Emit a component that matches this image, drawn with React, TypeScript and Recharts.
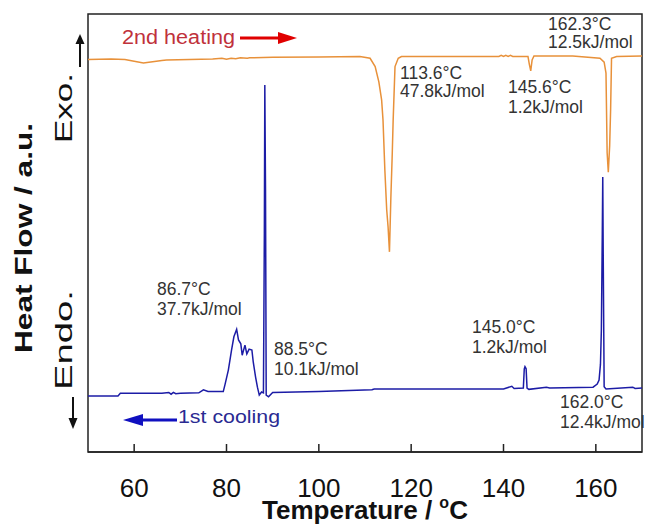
import { LineChart, Line, XAxis, YAxis, ReferenceArea } from 'recharts';

// 2nd heating trace (orange), temperature in °C and heat flow in a.u.
const heatingT = [
  50, 55, 58, 60, 62, 64, 66, 67, 72, 77, 79, 80, 81, 82, 83, 84.5, 85, 90, 100, 108.9, 111.1, 112.2,
  113.0, 113.6, 113.9, 114.3, 114.7, 115.0, 115.3, 115.6, 115.9, 116.1, 116.5, 117.2, 117.9, 125,
  139, 139.5, 140, 140.5, 141, 141.5, 142, 145.3, 145.6, 145.9, 146.2, 146.6, 155, 160.9, 161.8,
  162.2, 162.45, 162.7, 163.0, 163.2, 163.4, 164.5, 170,
];
const heatingV = [
  89.6, 89.7, 89.6, 89.2, 88.8, 89.1, 89.4, 89.5, 89.6, 89.7, 89.9, 89.7, 89.9, 89.8, 90.0, 89.9,
  90.0, 90.1, 90.2, 90.3, 89.9, 88.0, 84.5, 80.4, 75.8, 64.4, 55.3, 51.4, 45.7, 58, 68, 75.8, 88.0,
  89.9, 90.3, 90.3, 90.3, 90.55, 90.3, 90.55, 90.3, 90.55, 90.3, 90.3, 88.5, 87.0, 89.5, 90.4, 90.4,
  89.9, 89.0, 86.5, 68.3, 63.9, 70, 78.1, 89.9, 90.3, 90.4,
];

// 1st cooling trace (blue)
const coolingT = [
  50, 56.5, 57, 64, 66, 67.5, 68, 68.5, 69, 70, 74, 75, 76, 78, 79.3, 79.7, 80.4, 81.1, 81.6, 82.2,
  82.6, 83.1, 83.4, 84.0, 84.4, 84.9, 85.5, 85.8, 86.3, 86.7, 87.1, 87.6, 88.0, 88.2, 88.3, 88.45,
  88.6, 89.1, 90, 100, 111.5, 112, 140, 141.8, 142.3, 144.3, 144.5, 144.65, 144.9, 145.1, 145.5,
  149.3, 150, 159.4, 160.3, 160.7, 161.0, 161.2, 161.4, 161.5, 161.6, 161.8, 162.2, 168, 168.5, 170,
];
const coolingV = [
  12.8, 12.8, 13.4, 13.4, 13.4, 13.6, 13.2, 13.6, 13.3, 13.4, 13.5, 14.2, 13.8, 13.8, 13.8, 15.5,
  18.7, 23.3, 26.3, 28.0, 25.6, 24.7, 22.1, 24.4, 22.4, 23.5, 23.3, 20.5, 17.1, 14.8, 13.0, 13.7,
  13.5, 50, 83.8, 60, 13.0, 12.6, 13.6, 13.8, 14.2, 14.4, 14.4, 15.0, 14.5, 14.6, 19.0, 19.5, 19.0,
  14.6, 14.3, 14.8, 14.6, 14.8, 15.5, 16.4, 20, 27.9, 50, 62.8, 45, 14.9, 14.4, 14.8, 14.5, 14.6,
];

const xTicks = [60, 80, 100, 120, 140, 160];

const heating = heatingT.map((t, i) => ({ t, v: heatingV[i] }));
const cooling = coolingT.map((t, i) => ({ t, v: coolingV[i] }));

const font = 'Liberation Sans, Arial, sans-serif';

const TempTick = (props: any) => {
  const { x, y, payload } = props;
  return (
    <g>
      <line x1={x} x2={x} y1={y} y2={y - 8} stroke="#222" strokeWidth={1.5} />
      <text x={x} y={y + 45} textAnchor="middle" fontSize={26} fontFamily={font} fill="#111">
        {payload.value}
      </text>
    </g>
  );
};

const notes = [
  { x: 548, y: 30, text: '162.3°C' },
  { x: 548, y: 48, text: '12.5kJ/mol' },
  { x: 400, y: 79, text: '113.6°C' },
  { x: 400, y: 97, text: '47.8kJ/mol' },
  { x: 508, y: 93, text: '145.6°C' },
  { x: 508, y: 113, text: '1.2kJ/mol' },
  { x: 157, y: 295, text: '86.7°C' },
  { x: 157, y: 315, text: '37.7kJ/mol' },
  { x: 274, y: 355, text: '88.5°C' },
  { x: 274, y: 375, text: '10.1kJ/mol' },
  { x: 472, y: 333, text: '145.0°C' },
  { x: 472, y: 353, text: '1.2kJ/mol' },
  { x: 560, y: 408, text: '162.0°C' },
  { x: 560, y: 428, text: '12.4kJ/mol' },
];

export default function App() {
  return (
    <div style={{ position: 'absolute', left: 0, top: 0, width: 652, height: 526, background: '#fff' }}>
      <LineChart width={652} height={526} data={heating} margin={{ top: 14, right: 10, left: 88, bottom: 0 }}>
        <XAxis
          type="number"
          dataKey="t"
          domain={[50, 170]}
          ticks={xTicks}
          height={74}
          tickSize={0}
          tickMargin={0}
          tickLine={false}
          axisLine={{ stroke: '#222', strokeWidth: 1.5 }}
          tick={<TempTick />}
          allowDataOverflow
        />
        <YAxis type="number" domain={[0, 100]} hide allowDataOverflow />
        <ReferenceArea x1={50} x2={170} y1={0} y2={100} fill="none" stroke="#222" strokeWidth={1.5} />
        <Line
          data={heating}
          dataKey="v"
          type="linear"
          stroke="#e8913a"
          strokeWidth={1.5}
          dot={false}
          isAnimationActive={false}
        />
        <Line
          data={cooling}
          dataKey="v"
          type="linear"
          stroke="#1c1ca6"
          strokeWidth={1.5}
          dot={false}
          isAnimationActive={false}
        />
      </LineChart>
      <svg
        width={652}
        height={526}
        style={{ position: 'absolute', left: 0, top: 0, pointerEvents: 'none' }}
        fontFamily={font}
      >
        {/* axis titles */}
        <text x={365} y={519} textAnchor="middle" fontSize={26} fontWeight="bold" fill="#111">
          Temperature /{' '}
          <tspan fontSize={16} dy={-11}>
            o
          </tspan>
          <tspan dy={11}>C</tspan>
        </text>
        <text
          transform="translate(32,238) rotate(-90)"
          textAnchor="middle"
          fontSize={23}
          fontWeight="bold"
          fill="#111"
          textLength={230}
          lengthAdjust="spacingAndGlyphs"
        >
          Heat Flow / a.u.
        </text>
        <text transform="translate(72,108) rotate(-90)" textAnchor="middle" fontSize={24} fill="#111" textLength={70} lengthAdjust="spacingAndGlyphs">
          Exo.
        </text>
        <text transform="translate(72,340) rotate(-90)" textAnchor="middle" fontSize={24} fill="#111" textLength={100} lengthAdjust="spacingAndGlyphs">
          Endo.
        </text>
        <line x1={80} x2={80} y1={67} y2={42} stroke="#111" strokeWidth={2} />
        <polygon points="75.5,44 80,34 84.5,44" fill="#111" />
        <line x1={73} x2={73} y1={397} y2={420} stroke="#111" strokeWidth={2} />
        <polygon points="68.5,418 73,429 77.5,418" fill="#111" />

        {/* series labels */}
        <text x={122} y={44} fontSize={20} fill="#c0313b" textLength={113} lengthAdjust="spacingAndGlyphs">
          2nd heating
        </text>
        <line x1={240} x2={282} y1={38} y2={38} stroke="#e00000" strokeWidth={3} />
        <polygon points="278,32 297,38 278,44" fill="#e00000" />
        <text x={178} y={423} fontSize={19} fill="#2a2a92" textLength={102} lengthAdjust="spacingAndGlyphs">
          1st cooling
        </text>
        <line x1={140} x2={177} y1={420} y2={420} stroke="#1010c0" strokeWidth={3} />
        <polygon points="143,414 123,420 143,426" fill="#1010c0" />

        {notes.map((n, i) => (
          <text key={i} x={n.x} y={n.y} fontSize={17.5} fill="#333">
            {n.text}
          </text>
        ))}
      </svg>
    </div>
  );
}
